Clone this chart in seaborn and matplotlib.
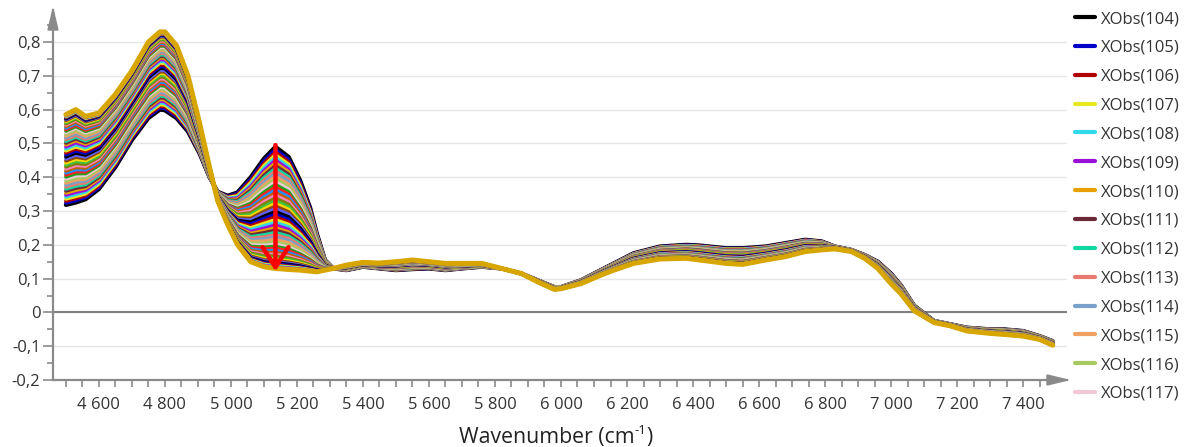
import numpy as np
import pandas as pd
import matplotlib
matplotlib.use("Agg")
import matplotlib.pyplot as plt
from matplotlib.lines import Line2D
from matplotlib.patches import Polygon
import seaborn as sns

# ---------------- data ----------------
wavenumbers = [4500, 4530, 4560, 4600, 4650, 4700, 4750, 4785, 4800, 4835, 4870, 4905, 4935,
               4960, 4990, 5020, 5060, 5100, 5135, 5175, 5210, 5240, 5260, 5285, 5310, 5350,
               5400, 5450, 5500, 5550, 5600, 5650, 5700, 5760, 5820, 5880, 5930, 5980, 6000,
               6060, 6120, 6160, 6220, 6300, 6380, 6420, 6500, 6550, 6620, 6680, 6740, 6790,
               6830, 6880, 6920, 6960, 7000, 7030, 7070, 7130, 7180, 7230, 7300, 7340, 7400,
               7450, 7490]

# first observation (wet, XObs(104))
spectrum_first = [0.318, 0.325, 0.335, 0.365, 0.43, 0.51, 0.575, 0.600, 0.598, 0.575, 0.535, 0.47,
                  0.40, 0.357, 0.345, 0.355, 0.40, 0.455, 0.490, 0.460, 0.39, 0.31, 0.235, 0.155,
                  0.13, 0.125, 0.135, 0.13, 0.125, 0.128, 0.13, 0.125, 0.13, 0.135, 0.13, 0.115,
                  0.095, 0.075, 0.075, 0.095, 0.125, 0.145, 0.175, 0.195, 0.20, 0.198, 0.19,
                  0.19, 0.195, 0.205, 0.215, 0.21, 0.195, 0.185, 0.17, 0.15, 0.115, 0.08, 0.02,
                  -0.025, -0.035, -0.045, -0.05, -0.05, -0.055, -0.07, -0.085]

# last observation (dry)
spectrum_last = [0.585, 0.60, 0.58, 0.59, 0.645, 0.715, 0.80, 0.830, 0.83, 0.79, 0.70, 0.56,
                 0.43, 0.33, 0.26, 0.20, 0.15, 0.135, 0.130, 0.127, 0.125, 0.122, 0.12, 0.125,
                 0.13, 0.14, 0.148, 0.146, 0.15, 0.155, 0.15, 0.145, 0.145, 0.145, 0.13, 0.115,
                 0.09, 0.068, 0.07, 0.085, 0.11, 0.125, 0.145, 0.158, 0.16, 0.155, 0.145, 0.142,
                 0.155, 0.165, 0.18, 0.185, 0.188, 0.18, 0.16, 0.13, 0.085, 0.055, 0.005,
                 -0.03, -0.04, -0.055, -0.062, -0.065, -0.07, -0.08, -0.097]

band_5135 = [0.490, 0.482, 0.474, 0.466, 0.458, 0.450, 0.442, 0.434, 0.426, 0.418, 0.410, 0.402,
             0.394, 0.386, 0.378, 0.370, 0.362, 0.354, 0.346, 0.338, 0.330, 0.322, 0.314, 0.306,
             0.298, 0.290, 0.282, 0.274, 0.266, 0.258, 0.250, 0.243, 0.236, 0.229, 0.222, 0.215,
             0.208, 0.201, 0.195, 0.189, 0.183, 0.177, 0.171, 0.166, 0.161, 0.157, 0.153, 0.149,
             0.146, 0.143, 0.140, 0.138, 0.136, 0.134, 0.132, 0.130]

obs_numbers = list(range(104, 104 + len(band_5135)))
obs_labels = [f"XObs({n})" for n in obs_numbers]

legend_colors = ['#000000', '#0000c8', '#b00000', '#e8e820', '#30d8e8', '#9b10d8', '#e8a000',
                 '#6b2838', '#10d8a0', '#e87870', '#78a0c8', '#f0a060', '#a8c860', '#f0c8d8']
extra_colors = ['#20a020', '#ff2020', '#1e90ff', '#c06000', '#ff80c0', '#808000', '#40c040',
                '#ffd700', '#8b4513', '#6060ff']
last_color = '#d8a600'

xtick_values = [4600, 4800, 5000, 5200, 5400, 5600, 5800, 6000, 6200, 6400, 6600, 6800, 7000, 7200, 7400]
xtick_labels = ['4 600', '4 800', '5 000', '5 200', '5 400', '5 600', '5 800', '6 000',
                '6 200', '6 400', '6 600', '6 800', '7 000', '7 200', '7 400']
ytick_values = [-0.2, -0.1, 0.0, 0.1, 0.2, 0.3, 0.4, 0.5, 0.6, 0.7, 0.8]
ytick_labels = ['-0,2', '-0,1', '0', '0,1', '0,2', '0,3', '0,4', '0,5', '0,6', '0,7', '0,8']

# ---------------- build table ----------------
first = np.array(spectrum_first)
last = np.array(spectrum_last)
b0, b1 = band_5135[0], band_5135[-1]
rows = []
for lab, b in zip(obs_labels, band_5135):
    w = (b0 - b) / (b0 - b1)
    vals = first + (last - first) * w
    for wn, v in zip(wavenumbers, vals):
        rows.append((lab, wn, v))
df = pd.DataFrame(rows, columns=['obs', 'wavenumber', 'absorbance'])

full_palette = legend_colors + extra_colors
palette = {lab: full_palette[i % len(full_palette)] for i, lab in enumerate(obs_labels)}
palette[obs_labels[-1]] = last_color

# ---------------- figure ----------------
sns.set_theme(style='white')
plt.rcParams['font.family'] = ['Open Sans', 'DejaVu Sans']

W, H = 1192, 447
fig = plt.figure(figsize=(W / 100, H / 100), dpi=100)
ax = fig.add_axes([53 / W, (H - 380) / H, (1067 - 53) / W, (380 - 10) / H])

sns.lineplot(data=df, x='wavenumber', y='absorbance', hue='obs', palette=palette,
             hue_order=obs_labels, estimator=None, sort=False, legend=False,
             linewidth=2.6, ax=ax)
ax.lines[-1].set_linewidth(3.6)
ax.lines[0].set_linewidth(3.0)

ax.set_xlim(4461, 7533)
ax.set_ylim(-0.2, 0.8947)

axis_gray = '#8a8a8a'
ax.set_xticks(xtick_values)
ax.set_xticklabels(xtick_labels)
ax.set_xticks(np.arange(4500, 7500, 50), minor=True)
ax.set_yticks(ytick_values)
ax.set_yticklabels(ytick_labels)
ax.set_yticks(np.arange(-0.15, 0.86, 0.1), minor=True)

ax.tick_params(axis='x', which='both', direction='out', length=5, width=1.2, color=axis_gray,
               labelsize=12, labelcolor='#333333', pad=7, bottom=True)
ax.tick_params(axis='y', which='major', direction='out', length=7, width=1.2, color=axis_gray,
               labelsize=12, labelcolor='#333333', pad=2, left=True)
ax.tick_params(axis='y', which='minor', direction='out', length=4, width=1.2, color=axis_gray, left=True)

ax.yaxis.grid(True, which='major', color='#e6e6e6', linewidth=1.0)
ax.xaxis.grid(False)
ax.set_axisbelow(True)
ax.axhline(0, color='#808080', linewidth=1.5, zorder=1)

for s in ['top', 'right']:
    ax.spines[s].set_visible(False)
for s in ['left', 'bottom']:
    ax.spines[s].set_color(axis_gray)
    ax.spines[s].set_linewidth(1.6)

ax.set_xlabel('')
ax.set_ylabel('')

# axis arrows (pixel coords -> figure fraction)
def fp(x, y):
    return (x / W, (H - y) / H)

fig.add_artist(Polygon([fp(53, 9), fp(48, 30), fp(58, 30)], closed=True,
                       transform=fig.transFigure, color=axis_gray))
fig.add_artist(Polygon([fp(1068, 380), fp(1047, 375), fp(1047, 385)], closed=True,
                       transform=fig.transFigure, color=axis_gray))

# red arrow
ax.annotate('', xy=(5135, 0.122), xytext=(5135, 0.495),
            arrowprops=dict(arrowstyle='->,head_length=0.72,head_width=0.47', color='#ff0000',
                            lw=3.2, shrinkA=0, shrinkB=0, mutation_scale=20), zorder=10)

# x label built from pieces so the superscript uses a plain hyphen
fig.canvas.draw()
renderer = fig.canvas.get_renderer()
lab_fs = 15.3
y_base = (H - 443) / H
p1 = fig.text(0, y_base, 'Wavenumber (cm', fontsize=lab_fs, color='#222222', va='baseline')
p2 = fig.text(0, y_base, '-1', fontsize=lab_fs * 0.62, color='#222222', va='baseline')
p3 = fig.text(0, y_base, ')', fontsize=lab_fs, color='#222222', va='baseline')
w1 = p1.get_window_extent(renderer).width
w2 = p2.get_window_extent(renderer).width
w3 = p3.get_window_extent(renderer).width
total = w1 + w2 + w3
x0 = 556 - total / 2
p1.set_x(x0 / W)
p2.set_x((x0 + w1) / W)
p2.set_y(y_base + 9 / H)
p3.set_x((x0 + w1 + w2) / W)

# legend (first entries only, as in the reference)
handles = [Line2D([0], [0], color=c, lw=3) for c in legend_colors]
fig.legend(handles, obs_labels[:len(legend_colors)], loc='upper left',
           bbox_to_anchor=(1075 / W, (H - 11) / H), frameon=False, fontsize=12,
           handlelength=1.2, handletextpad=0.35, labelspacing=0.77, borderpad=0,
           borderaxespad=0, labelcolor='#333333')

fig.savefig('out.png', dpi=100)
